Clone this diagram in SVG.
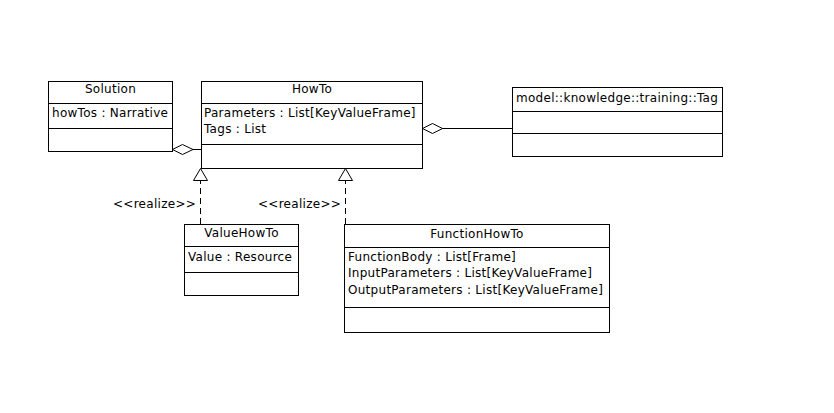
<svg xmlns="http://www.w3.org/2000/svg" width="834" height="413" viewBox="0 0 834 413">
  <style>
    .box { fill: #fff; stroke: #000; stroke-width: 1; }
    .sep { stroke: #000; stroke-width: 1; }
    .t { font-family: "DejaVu Sans", Verdana, sans-serif; font-size: 12px; letter-spacing: 0.28px; fill: #000; }
    .c { text-anchor: middle; }
    .line { stroke: #000; stroke-width: 1; fill: none; }
    .dash { stroke: #000; stroke-width: 1; fill: none; stroke-dasharray: 6 4; }
    .head { fill: #fff; stroke: #000; stroke-width: 1; }
  </style>
  <rect width="834" height="413" fill="#fff"/>

  <g id="connectors">
    <!-- Solution aggregates HowTo -->
    <line class="line" x1="193" y1="149.5" x2="201" y2="149.5"/>
    <polygon class="head" points="172.5,149.5 182.5,144.5 193,149.5 182.5,154.5"/>
    <!-- HowTo aggregates Tag -->
    <line class="line" x1="442" y1="128.5" x2="512" y2="128.5"/>
    <polygon class="head" points="422.5,128.5 432.5,123.5 442.5,128.5 432.5,133.5"/>
    <!-- ValueHowTo realizes HowTo -->
    <line class="dash" x1="200.5" y1="224" x2="200.5" y2="180"/>
    <polygon class="head" points="200.5,168.5 207.5,180.5 193.5,180.5"/>
    <text class="t" x="113" y="208">&lt;&lt;realize&gt;&gt;</text>
    <!-- FunctionHowTo realizes HowTo -->
    <line class="dash" x1="345.5" y1="224" x2="345.5" y2="180"/>
    <polygon class="head" points="345.5,168.5 352.5,180.5 338.5,180.5"/>
    <text class="t" x="258" y="208">&lt;&lt;realize&gt;&gt;</text>
  </g>

  <g id="Solution">
    <rect class="box" x="48.5" y="81.5" width="124" height="70"/>
    <line class="sep" x1="48" y1="103.5" x2="172" y2="103.5"/>
    <line class="sep" x1="48" y1="128.5" x2="172" y2="128.5"/>
    <text class="t c" x="110.5" y="93">Solution</text>
    <text class="t" x="52" y="117">howTos : Narrative</text>
  </g>

  <g id="HowTo">
    <rect class="box" x="201.5" y="81.5" width="221" height="87"/>
    <line class="sep" x1="201" y1="103.5" x2="422" y2="103.5"/>
    <line class="sep" x1="201" y1="144.5" x2="422" y2="144.5"/>
    <text class="t c" x="312" y="93">HowTo</text>
    <text class="t" x="204" y="117">Parameters : List[KeyValueFrame]</text>
    <text class="t" x="204" y="133">Tags : List</text>
  </g>

  <g id="Tag">
    <rect class="box" x="512.5" y="87.5" width="210" height="69"/>
    <line class="sep" x1="512" y1="111.5" x2="722" y2="111.5"/>
    <line class="sep" x1="512" y1="133.5" x2="722" y2="133.5"/>
    <text class="t" x="516" y="102">model::knowledge::training::Tag</text>
  </g>

  <g id="ValueHowTo">
    <rect class="box" x="184.5" y="224.5" width="114" height="71"/>
    <line class="sep" x1="184" y1="246.5" x2="298" y2="246.5"/>
    <line class="sep" x1="184" y1="272.5" x2="298" y2="272.5"/>
    <text class="t c" x="241.5" y="237">ValueHowTo</text>
    <text class="t" x="188" y="261">Value : Resource</text>
  </g>

  <g id="FunctionHowTo">
    <rect class="box" x="344.5" y="224.5" width="265" height="108"/>
    <line class="sep" x1="344" y1="247.5" x2="609" y2="247.5"/>
    <line class="sep" x1="344" y1="307.5" x2="609" y2="307.5"/>
    <text class="t c" x="477" y="238">FunctionHowTo</text>
    <text class="t" x="348" y="261">FunctionBody : List[Frame]</text>
    <text class="t" x="348" y="277">InputParameters : List[KeyValueFrame]</text>
    <text class="t" x="348" y="294">OutputParameters : List[KeyValueFrame]</text>
  </g>
</svg>
